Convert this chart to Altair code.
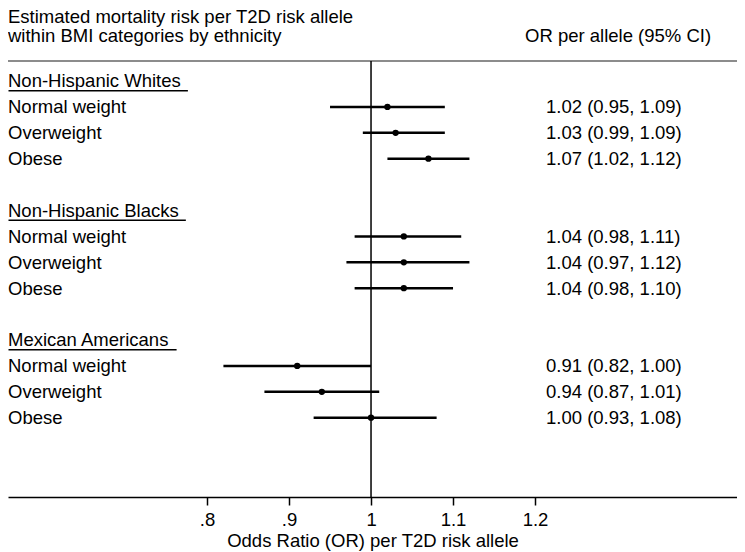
import altair as alt
import pandas as pd

# ---------------- data ----------------
groups = ["Non-Hispanic Whites", "Non-Hispanic Blacks", "Mexican Americans"]
bmi = ["Normal weight", "Overweight", "Obese"]
or_vals = [[1.02, 1.03, 1.07], [1.04, 1.04, 1.04], [0.91, 0.94, 1.00]]
lo_vals = [[0.95, 0.99, 1.02], [0.98, 0.97, 0.98], [0.82, 0.87, 0.93]]
hi_vals = [[1.09, 1.09, 1.12], [1.11, 1.12, 1.10], [1.00, 1.01, 1.08]]
tick_values = [0.8, 0.9, 1.0, 1.1, 1.2]
tick_labels = [".8", ".9", "1", "1.1", "1.2"]
title_lines = ["Estimated mortality risk per T2D risk allele",
               "within BMI categories by ethnicity"]
col_header = "OR per allele (95% CI)"
x_title = "Odds Ratio (OR) per T2D risk allele"

# ---------------- layout / style ----------------
FONT = "Liberation Sans"
FS = 18.5
W, H = 729, 436
X_DOMAIN = [0.5573, 1.4463]
Y_DOMAIN = [-0.772, 16.062]
PX_PER_UNIT = W / (X_DOMAIN[1] - X_DOMAIN[0])

# Arial / Liberation Sans advance widths (per 1000 em) for underline length
ADV = {"N": 722, "o": 556, "n": 556, "-": 333, "H": 722, "i": 222, "s": 500,
       "p": 556, "a": 556, "c": 500, " ": 278, "W": 944, "h": 556, "t": 278,
       "e": 556, "B": 667, "l": 222, "k": 500, "M": 833, "x": 500, "A": 667,
       "m": 833, "r": 333}


def text_width(s):
    return sum(ADV.get(ch, 556) for ch in s) / 1000.0 * FS


rows, heads = [], []
for g, grp in enumerate(groups):
    hrow = g * 5
    ul_px = text_width(grp) + 1.4 * ADV[" "] / 1000.0 * FS
    heads.append({"row": hrow, "label": grp,
                  "u1": X_DOMAIN[0] + 0.5 / PX_PER_UNIT,
                  "u2": X_DOMAIN[0] + ul_px / PX_PER_UNIT})
    for j, b in enumerate(bmi):
        o, lo, hi = or_vals[g][j], lo_vals[g][j], hi_vals[g][j]
        rows.append({"row": hrow + 1 + j, "label": b, "or": o, "lo": lo, "hi": hi,
                     "ci": f"{o:.2f} ({lo:.2f}, {hi:.2f})"})
df = pd.DataFrame(rows)
hdf = pd.DataFrame(heads)

label_map = ", ".join(f"'{v:g}': '{t}'" for v, t in zip(tick_values, tick_labels))
label_expr = f"({{{label_map}}})[toString(datum.value)]"

xscale = alt.Scale(domain=X_DOMAIN, nice=False, zero=False)
yscale = alt.Scale(domain=Y_DOMAIN, nice=False, zero=False, reverse=True)
xaxis = alt.Axis(values=tick_values, labelExpr=label_expr, title=x_title,
                 grid=False, domainColor="black", domainWidth=1.5,
                 tickColor="black", tickWidth=1.5, tickSize=8,
                 labelFont=FONT, labelFontSize=FS, labelColor="black",
                 labelPadding=5, labelFlush=False,
                 titleFont=FONT, titleFontSize=FS, titleFontWeight="normal",
                 titleColor="black", titlePadding=3)


def X(field):
    return alt.X(field, type="quantitative", scale=xscale, axis=xaxis)


def Y(field):
    return alt.Y(field, type="quantitative", scale=yscale, axis=None)


one = pd.DataFrame({"v": [1.0]})

top_line = alt.Chart(one).mark_rule(color="#666666", strokeWidth=1.5).encode(
    y=alt.value(0), x=alt.value(0), x2=alt.value(W))

ref_line = alt.Chart(one).mark_rule(color="black", strokeWidth=1.5).encode(
    x=X("v"))

ci = alt.Chart(df).mark_rule(color="black", strokeWidth=2.5).encode(
    x=X("lo"), x2="hi", y=Y("row"))

pts = alt.Chart(df).mark_circle(color="black", opacity=1, size=40).encode(
    x=X("or"), y=Y("row"))

txt_style = dict(font=FONT, fontSize=FS, color="black", baseline="alphabetic", dy=6.5)

labels = alt.Chart(df).mark_text(align="left", **txt_style).encode(
    x=alt.value(0), y=Y("row"), text="label:N")

head_labels = alt.Chart(hdf).mark_text(align="left", **txt_style).encode(
    x=alt.value(0), y=Y("row"), text="label:N")

underline = alt.Chart(hdf).mark_rule(color="black", strokeWidth=1.5, yOffset=9.7).encode(
    x=X("u1"), x2="u2", y=Y("row"))

ci_text = alt.Chart(df).mark_text(align="left", **txt_style).encode(
    x=alt.value(538), y=Y("row"), text="ci:N")

t_style = dict(font=FONT, fontSize=FS, color="black", baseline="alphabetic", align="left")
title1 = alt.Chart(one).mark_text(text=title_lines[0], **t_style).encode(
    x=alt.value(0), y=alt.value(-38))
title2 = alt.Chart(one).mark_text(text=title_lines[1], **t_style).encode(
    x=alt.value(0), y=alt.value(-19))
header = alt.Chart(one).mark_text(text=col_header, **t_style).encode(
    x=alt.value(517), y=alt.value(-19))

chart = alt.layer(
    top_line, ref_line, ci, pts, labels, head_labels, underline, ci_text,
    title1, title2, header
).properties(
    width=W, height=H,
    autosize=alt.AutoSizeParams(type="none"),
    padding={"left": 0, "top": 53, "right": 0, "bottom": 55},
    background="white",
).configure_view(stroke=None)

chart.save("out.html", embed_options={"renderer": "svg", "actions": False})
